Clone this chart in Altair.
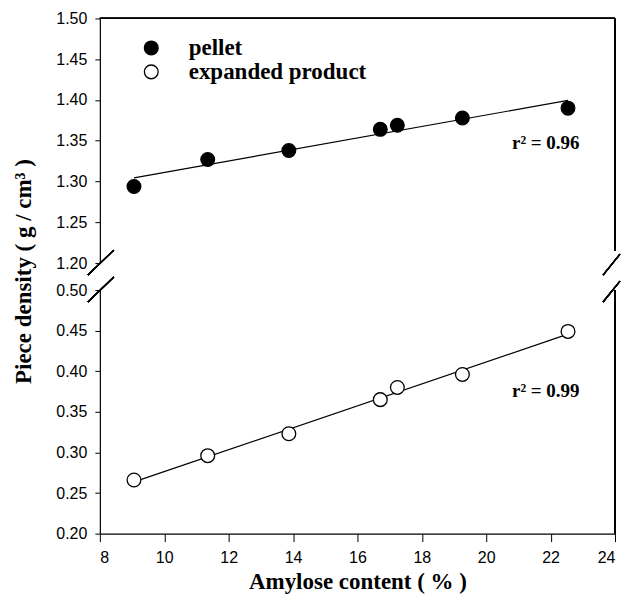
import altair as alt
import pandas as pd

amylose = [9.06, 11.35, 13.87, 16.71, 17.24, 19.26, 22.54]
pellet = [1.294, 1.327, 1.338, 1.364, 1.369, 1.378, 1.390]
expanded = [0.266, 0.296, 0.323, 0.365, 0.380, 0.396, 0.449]
series_names = ["pellet", "expanded product"]
r2_labels = ["r\u00b2 = 0.96", "r\u00b2 = 0.99"]
r2_x = [20.8, 20.8]
r2_y = [1.347, 0.376]
x_ticks = [8, 10, 12, 14, 16, 18, 20, 22, 24]
top_ticks = [1.20, 1.25, 1.30, 1.35, 1.40, 1.45, 1.50]
bot_ticks = [0.20, 0.25, 0.30, 0.35, 0.40, 0.45, 0.50]

W, H_TOP, H_BOT = 516, 245, 244
SANS = "Liberation Sans"
SERIF = "Liberation Serif"

top_df = pd.DataFrame({"x": amylose, "y": pellet, "series": series_names[0]})
bot_df = pd.DataFrame({"x": amylose, "y": expanded, "series": series_names[1]})
r2_top = pd.DataFrame({"x": [r2_x[0]], "y": [r2_y[0]], "t": [r2_labels[0]]})
r2_bot = pd.DataFrame({"x": [r2_x[1]], "y": [r2_y[1]], "t": [r2_labels[1]]})

xscale = alt.Scale(domain=[8, 24], nice=False, zero=False)
yscale_top = alt.Scale(domain=[1.20, 1.50], nice=False, zero=False)
yscale_bot = alt.Scale(domain=[0.20, 0.50], nice=False, zero=False)

axis_common = dict(labelFont=SANS, labelFontSize=16, labelColor="black",
                   domainColor="black", tickColor="black", grid=False)

top_x = alt.X("x:Q", scale=xscale, axis=None)
top_y = alt.Y("y:Q", scale=yscale_top,
              axis=alt.Axis(values=top_ticks, format=".2f", title=None,
                            tickSize=5, labelPadding=8, domainWidth=1.2,
                            **axis_common))

top_line = alt.Chart(top_df).transform_regression("x", "y").mark_line(
    color="black", strokeWidth=1.2).encode(x=top_x, y=top_y)
top_pts = alt.Chart(top_df).mark_point(
    shape="circle", size=190, filled=True, opacity=1, stroke="black", strokeWidth=1.2
).encode(
    x=top_x, y=top_y,
    fill=alt.Fill("series:N",
                  scale=alt.Scale(domain=series_names, range=["black", "white"]),
                  legend=alt.Legend(title=None, orient="none", legendX=40, legendY=18,
                                    symbolType="circle", symbolSize=190,
                                    symbolStrokeColor="black", symbolStrokeWidth=1.3,
                                    labelFont=SERIF, labelFontWeight="bold",
                                    labelFontSize=23, labelColor="black", labelLimit=400,
                                    labelOffset=26, rowPadding=0, padding=0)))
top_txt = alt.Chart(r2_top).mark_text(
    font=SERIF, fontWeight="bold", fontSize=19, align="left", baseline="middle",
    color="black").encode(x=top_x, y=top_y, text="t:N")
top_frame_t = alt.Chart(top_df).mark_rule(color="black", strokeWidth=1.2).encode(
    x=alt.value(0), x2=alt.value(W), y=alt.value(0))
top_frame_r = alt.Chart(top_df).mark_rule(color="black", strokeWidth=1.2).encode(
    x=alt.value(W), y=alt.value(0), y2=alt.value(233))
brk_tl = alt.Chart(top_df).mark_rule(color="black", strokeWidth=1.2).encode(
    x=alt.value(-12), x2=alt.value(14), y=alt.value(H_TOP + 12), y2=alt.value(H_TOP - 13))
brk_tr = alt.Chart(top_df).mark_rule(color="black", strokeWidth=1.2).encode(
    x=alt.value(W - 12), x2=alt.value(W + 5), y=alt.value(H_TOP + 12), y2=alt.value(H_TOP - 9))

top = alt.layer(top_frame_t, top_frame_r, brk_tl, brk_tr, top_line, top_pts, top_txt
                ).properties(width=W, height=H_TOP)

bot_x = alt.X("x:Q", scale=xscale,
              axis=alt.Axis(values=x_ticks, title="Amylose content ( % )",
                            tickSize=8, labelPadding=8, domainWidth=1.2,
                            titleFont=SERIF, titleFontWeight="bold", titleFontSize=23,
                            titleColor="black", titlePadding=5, **axis_common))
bot_y = alt.Y("y:Q", scale=yscale_bot,
              axis=alt.Axis(values=bot_ticks, format=".2f",
                            title="Piece density ( g / cm\u00b3 )",
                            tickSize=5, labelPadding=8, domainWidth=1.2,
                            titleFont=SERIF, titleFontWeight="bold", titleFontSize=23,
                            titleColor="black", titleX=-76, titleY=-19,
                            titleAlign="center", titleBaseline="middle", titleAngle=270,
                            **axis_common))

bot_line = alt.Chart(bot_df).transform_regression("x", "y").mark_line(
    color="black", strokeWidth=1.2).encode(x=bot_x, y=bot_y)
bot_pts = alt.Chart(bot_df).mark_point(
    shape="circle", size=190, filled=True, opacity=1, fill="white",
    stroke="black", strokeWidth=1.3).encode(x=bot_x, y=bot_y)
bot_txt = alt.Chart(r2_bot).mark_text(
    font=SERIF, fontWeight="bold", fontSize=19, align="left", baseline="middle",
    color="black").encode(x=bot_x, y=bot_y, text="t:N")
bot_frame_r = alt.Chart(bot_df).mark_rule(color="black", strokeWidth=1.2).encode(
    x=alt.value(W), y=alt.value(0), y2=alt.value(H_BOT))
brk_bl = alt.Chart(bot_df).mark_rule(color="black", strokeWidth=1.2).encode(
    x=alt.value(-12), x2=alt.value(14), y=alt.value(12), y2=alt.value(-13))
brk_br = alt.Chart(bot_df).mark_rule(color="black", strokeWidth=1.2).encode(
    x=alt.value(W - 12), x2=alt.value(W + 5), y=alt.value(12), y2=alt.value(-9))

bot = alt.layer(bot_frame_r, brk_bl, brk_br, bot_line, bot_pts, bot_txt
                ).properties(width=W, height=H_BOT)

chart = alt.vconcat(top, bot, spacing=27, bounds="flush").resolve_legend(
    fill="independent").properties(
    padding={"top": 2, "left": 4, "right": 0, "bottom": 0}, background="white"
).configure_view(stroke=None)

chart.save("out.html", embed_options={"renderer": "svg", "actions": False})
